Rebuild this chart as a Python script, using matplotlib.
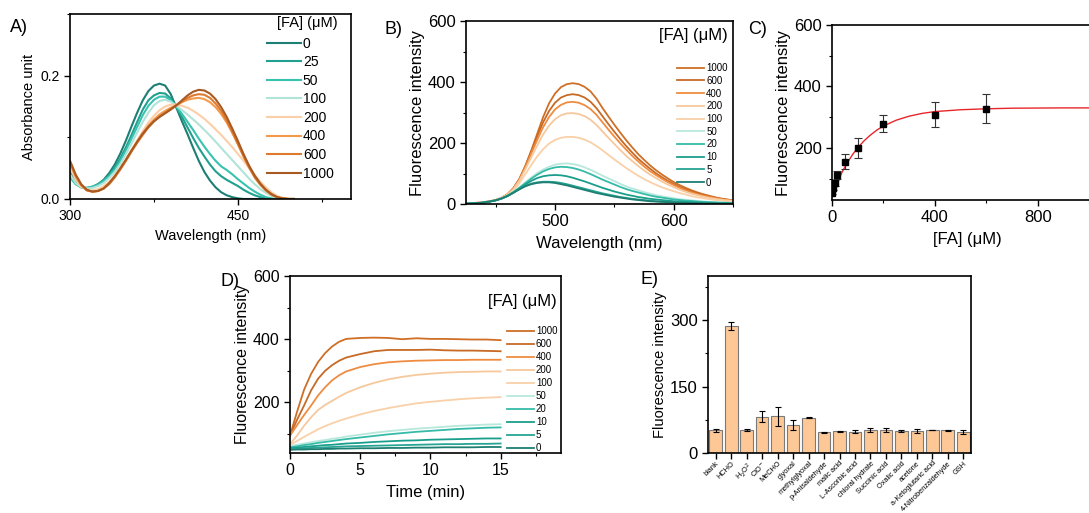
import numpy as np
import matplotlib
matplotlib.use("Agg")
import matplotlib.pyplot as plt
from matplotlib.ticker import MultipleLocator

plt.rcParams["font.family"] = ["Liberation Sans", "DejaVu Sans"]
plt.rcParams["axes.linewidth"] = 1.2
plt.rcParams["xtick.major.width"] = 1.0
plt.rcParams["ytick.major.width"] = 1.0
plt.rcParams["xtick.minor.width"] = 0.8
plt.rcParams["ytick.minor.width"] = 0.8

# ── A) absorbance spectra ────────────────────────────────────────────────────
abs_wl = [300, 305, 310, 315, 320, 325, 330, 335, 340, 345, 350, 355, 360, 365, 370,
          375, 380, 385, 390, 395, 400, 405, 410, 415, 420, 425, 430, 435, 440, 445,
          450, 455, 460, 465, 470, 475, 480, 485, 490, 495, 500]
abs_conc = ["0", "25", "50", "100", "200", "400", "600", "1000"]
abs_0 = [0.045, 0.028, 0.019, 0.017, 0.019, 0.024, 0.031, 0.042, 0.056, 0.074, 0.095, 0.118, 0.140, 0.160, 0.175,
         0.184, 0.187, 0.184, 0.170, 0.148, 0.126, 0.105, 0.083, 0.062, 0.044, 0.030, 0.019, 0.011, 0.006, 0.003,
         0.001, 0.0, 0.0, 0.0, 0.0, 0.0, 0.0, 0.0, 0.0, 0.0, 0.0]
abs_25 = [0.038, 0.025, 0.019, 0.018, 0.020, 0.024, 0.030, 0.039, 0.051, 0.066, 0.084, 0.104, 0.125, 0.145, 0.160,
          0.168, 0.172, 0.171, 0.163, 0.149, 0.133, 0.116, 0.099, 0.083, 0.069, 0.056, 0.045, 0.037, 0.031, 0.026,
          0.021, 0.015, 0.010, 0.006, 0.003, 0.001, 0.0, 0.0, 0.0, 0.0, 0.0]
abs_50 = [0.035, 0.024, 0.019, 0.018, 0.020, 0.023, 0.029, 0.037, 0.048, 0.062, 0.079, 0.098, 0.117, 0.136, 0.151,
          0.161, 0.166, 0.166, 0.160, 0.150, 0.138, 0.125, 0.112, 0.098, 0.085, 0.073, 0.062, 0.053, 0.047, 0.040,
          0.032, 0.025, 0.018, 0.012, 0.007, 0.003, 0.001, 0.0, 0.0, 0.0, 0.0]
abs_100 = [0.040, 0.026, 0.019, 0.017, 0.018, 0.021, 0.026, 0.034, 0.044, 0.057, 0.073, 0.090, 0.108, 0.125, 0.140,
           0.152, 0.159, 0.161, 0.158, 0.151, 0.144, 0.137, 0.129, 0.121, 0.112, 0.103, 0.093, 0.083, 0.073, 0.063,
           0.053, 0.043, 0.033, 0.024, 0.016, 0.010, 0.005, 0.002, 0.001, 0.0, 0.0]
abs_200 = [0.050, 0.032, 0.020, 0.015, 0.014, 0.016, 0.021, 0.028, 0.038, 0.050, 0.064, 0.079, 0.095, 0.110, 0.124,
           0.135, 0.144, 0.150, 0.153, 0.153, 0.151, 0.148, 0.143, 0.137, 0.130, 0.122, 0.113, 0.104, 0.094, 0.084,
           0.073, 0.062, 0.050, 0.039, 0.028, 0.019, 0.011, 0.005, 0.002, 0.001, 0.0]
abs_400 = [0.058, 0.037, 0.022, 0.014, 0.012, 0.013, 0.017, 0.025, 0.036, 0.049, 0.063, 0.078, 0.093, 0.107, 0.119,
           0.129, 0.137, 0.143, 0.148, 0.152, 0.157, 0.161, 0.163, 0.164, 0.162, 0.157, 0.149, 0.138, 0.124, 0.107,
           0.089, 0.070, 0.052, 0.036, 0.024, 0.014, 0.007, 0.003, 0.001, 0.0, 0.0]
abs_600 = [0.060, 0.038, 0.023, 0.014, 0.012, 0.013, 0.017, 0.024, 0.035, 0.048, 0.062, 0.077, 0.091, 0.104, 0.116,
           0.126, 0.134, 0.140, 0.146, 0.152, 0.158, 0.164, 0.168, 0.170, 0.169, 0.164, 0.155, 0.143, 0.127, 0.109,
           0.089, 0.069, 0.051, 0.035, 0.023, 0.014, 0.007, 0.003, 0.001, 0.0, 0.0]
abs_1000 = [0.062, 0.040, 0.024, 0.015, 0.012, 0.013, 0.017, 0.026, 0.037, 0.050, 0.064, 0.079, 0.093, 0.106, 0.117,
            0.126, 0.133, 0.139, 0.145, 0.152, 0.160, 0.168, 0.174, 0.177, 0.176, 0.171, 0.162, 0.149, 0.133, 0.114,
            0.094, 0.073, 0.054, 0.038, 0.025, 0.015, 0.008, 0.003, 0.001, 0.0, 0.0]
abs_colors = ["#1d7f74", "#21a090", "#38c2b0", "#b0e4d8", "#fbd0a8", "#f39a4d", "#dd7a2e", "#a85a22"]

# ── B) emission spectra ──────────────────────────────────────────────────────
em_wl = [425, 430, 435, 440, 445, 450, 455, 460, 465, 470, 475, 480, 485, 490, 495, 500,
         505, 510, 515, 520, 525, 530, 535, 540, 545, 550, 555, 560, 565, 570, 575, 580,
         585, 590, 595, 600, 605, 610, 615, 620, 625, 630, 635, 640, 645, 650]
fl_conc = ["1000", "600", "400", "200", "100", "50", "20", "10", "5", "0"]
em_1000 = [2, 3, 4, 6, 9, 13, 20, 32, 52, 82, 125, 175, 230, 285, 330, 362,
           383, 393, 396, 393, 384, 369, 345, 315, 287, 260, 234, 209, 186, 164, 145, 127,
           111, 97, 84, 72, 62, 53, 45, 38, 32, 27, 22, 18, 15, 12]
em_600 = [2, 3, 4, 6, 9, 13, 20, 32, 52, 82, 124, 172, 222, 268, 305, 332,
          349, 357, 360, 357, 349, 335, 314, 288, 262, 237, 213, 190, 169, 149, 132, 116,
          101, 88, 76, 66, 56, 48, 41, 35, 29, 24, 20, 17, 14, 11]
em_400 = [2, 3, 4, 6, 9, 13, 20, 32, 51, 80, 121, 166, 210, 252, 285, 310,
          325, 333, 335, 332, 324, 311, 292, 268, 244, 221, 199, 178, 158, 140, 123, 108,
          95, 83, 72, 62, 53, 45, 38, 32, 27, 23, 19, 16, 13, 11]
em_200 = [2, 3, 4, 6, 9, 13, 20, 31, 49, 77, 114, 153, 192, 228, 257, 278,
          291, 297, 298, 295, 288, 276, 259, 238, 217, 197, 177, 158, 141, 125, 110, 97,
          85, 74, 64, 55, 47, 40, 34, 29, 24, 20, 17, 14, 12, 10]
em_100 = [2, 3, 4, 6, 9, 13, 19, 29, 45, 68, 98, 128, 156, 180, 198, 210,
          217, 220, 220, 217, 211, 202, 190, 176, 161, 146, 132, 118, 105, 93, 82, 72,
          63, 55, 48, 42, 36, 31, 26, 22, 19, 16, 13, 11, 9, 8]
em_50 = [1, 2, 3, 5, 8, 12, 18, 28, 40, 55, 71, 87, 101, 113, 122, 129,
         132, 133, 131, 127, 120, 112, 103, 93, 84, 75, 66, 58, 51, 45, 39, 34,
         29, 25, 22, 19, 16, 14, 12, 10, 8, 7, 6, 5, 4, 4]
em_20 = [1, 2, 3, 5, 8, 12, 18, 27, 39, 53, 68, 83, 96, 107, 115, 120,
         122, 121, 118, 113, 106, 98, 89, 80, 72, 64, 56, 49, 43, 38, 33, 28,
         24, 21, 18, 15, 13, 11, 10, 8, 7, 6, 5, 4, 4, 3]
em_10 = [1, 2, 3, 5, 8, 12, 18, 27, 38, 51, 64, 76, 85, 91, 94, 95,
         94, 91, 86, 80, 74, 67, 60, 53, 47, 41, 36, 31, 27, 23, 20, 17,
         15, 13, 11, 9, 8, 7, 6, 5, 4, 4, 3, 3, 2, 2]
em_5 = [1, 2, 3, 5, 8, 12, 18, 26, 37, 49, 60, 67, 71, 73, 73, 72,
        69, 65, 60, 55, 50, 45, 40, 35, 31, 27, 23, 20, 17, 15, 13, 11,
        9, 8, 7, 6, 5, 4, 4, 3, 3, 2, 2, 2, 1, 1]
em_0 = [1, 2, 3, 5, 8, 12, 18, 26, 37, 48, 58, 65, 69, 71, 71, 69,
        65, 61, 56, 51, 46, 41, 36, 32, 28, 24, 21, 18, 15, 13, 11, 9,
        8, 7, 6, 5, 4, 4, 3, 3, 2, 2, 2, 1, 1, 1]
fl_colors = ["#cf6f26", "#c76a25", "#ef8c40", "#f6c89c", "#f9d0a8",
             "#b8e8dc", "#35bba8", "#1a9e8c", "#27a493", "#1d7f72"]

# ── C) titration ─────────────────────────────────────────────────────────────
fa_conc = [0, 5, 10, 20, 50, 100, 200, 400, 600]
fa_int = [54, 69, 85, 112, 155, 200, 278, 308, 328]
fa_err = [5, 8, 10, 12, 25, 32, 28, 40, 47]
fit_x = [0, 10, 20, 40, 60, 80, 100, 125, 150, 175, 200, 250, 300, 350, 400,
         500, 600, 700, 800, 900, 1000, 1100]
fit_y = [45, 67, 87, 122, 152, 178, 200, 223, 242, 258, 271, 290, 303, 312, 318,
         324, 327, 329, 329.5, 330, 330, 330]

# ── D) kinetics ──────────────────────────────────────────────────────────────
time_min = [0, 0.5, 1, 1.5, 2, 2.5, 3, 3.5, 4, 5, 6, 7, 8, 9, 10, 11, 12, 13, 14, 15]
kin_1000 = [95, 170, 240, 290, 328, 356, 377, 392, 401, 404, 405, 404, 400, 403, 401, 401, 400, 399, 399, 397]
kin_600 = [95, 145, 190, 238, 275, 300, 318, 332, 342, 353, 362, 366, 366, 366, 367, 365, 364, 364, 363, 362]
kin_400 = [95, 128, 160, 190, 222, 248, 270, 286, 298, 312, 321, 327, 330, 332, 333, 334, 334, 335, 335, 335]
kin_200 = [68, 95, 126, 153, 176, 192, 205, 218, 230, 248, 262, 273, 281, 287, 291, 294, 296, 297, 298, 298]
kin_100 = [65, 78, 91, 103, 115, 125, 134, 142, 149, 162, 173, 182, 190, 197, 202, 206, 210, 213, 215, 217]
kin_50 = [62, 66, 70, 74, 78, 81, 85, 88, 92, 98, 104, 109, 113, 117, 120, 123, 126, 128, 130, 131]
kin_20 = [58, 61, 65, 68, 72, 75, 78, 81, 84, 89, 94, 99, 103, 107, 110, 113, 116, 118, 120, 121]
kin_10 = [55, 57, 59, 61, 63, 65, 66, 68, 70, 72, 75, 77, 79, 80, 82, 83, 84, 85, 86, 86]
kin_5 = [52, 53, 55, 56, 57, 58, 59, 60, 61, 62, 63, 64, 65, 66, 67, 68, 68, 69, 69, 70]
kin_0 = [50, 51, 51, 52, 52, 53, 53, 54, 54, 55, 55, 56, 56, 57, 57, 58, 58, 58, 59, 59]

# ── E) selectivity ───────────────────────────────────────────────────────────
analytes = ["blank", "HCHO", "H$_2$O$^2$", "ClO$^{-}$", "MeCHO", "glyoxal", "methylglyoxal",
            "p-Anisaldehyde", "malic acid", "L-Ascorbic acid", "chloral hydrate", "Succinic acid",
            "Oxalic acid", "acetone", "a-Ketoglutaric acid", "4-Nitrobenzaldehyde", "GSH"]
sel_int = [51, 286, 52, 82, 83, 64, 80, 47, 49, 48, 52, 52, 50, 50, 52, 51, 47]
sel_err = [3, 9, 3, 13, 22, 11, 2, 1, 1, 3, 5, 5, 3, 4, 1, 2, 5]

W, H = 1089, 513
fig = plt.figure(figsize=(W / 100, H / 100), dpi=100)


def add_ax(x0, y0, x1, y1):
    return fig.add_axes([x0 / W, 1 - y1 / H, (x1 - x0) / W, (y1 - y0) / H])


def style(ax, size):
    ax.tick_params(which="major", direction="out", length=4, labelsize=size)
    ax.tick_params(which="minor", direction="out", length=2.5)


# A
ax = add_ax(70, 14, 351, 199)
for y, c, lab in zip([abs_0, abs_25, abs_50, abs_100, abs_200, abs_400, abs_600, abs_1000],
                     abs_colors, abs_conc):
    ax.plot(abs_wl, y, color=c, lw=1.5, label=lab)
ax.set_xlim(300, 551)
ax.set_ylim(0, 0.3)
ax.xaxis.set_major_locator(MultipleLocator(150))
ax.xaxis.set_minor_locator(MultipleLocator(75))
ax.yaxis.set_major_locator(MultipleLocator(0.2))
ax.yaxis.set_minor_locator(MultipleLocator(0.1))
ax.yaxis.set_major_formatter(matplotlib.ticker.FormatStrFormatter("%.1f"))
style(ax, 10)
ax.set_xlabel("Wavelength (nm)", fontsize=10.5, labelpad=4)
ax.set_ylabel("Absorbance unit", fontsize=10.5, labelpad=3)
ax.text(0.735, 0.95, "[FA] (μM)", transform=ax.transAxes, fontsize=10.5, va="center")
ax.legend(loc="upper left", bbox_to_anchor=(0.70, 0.878), frameon=False, fontsize=10,
          handlelength=2.5, handletextpad=0.1, labelspacing=0.33, borderpad=0, borderaxespad=0)

# B
ax = add_ax(466, 21, 733, 204)
for y, c, lab in zip([em_1000, em_600, em_400, em_200, em_100, em_50, em_20, em_10, em_5, em_0],
                     fl_colors, fl_conc):
    ax.plot(em_wl, y, color=c, lw=1.3, label=lab)
ax.set_xlim(425, 650)
ax.set_ylim(0, 600)
ax.xaxis.set_major_locator(MultipleLocator(100))
ax.xaxis.set_minor_locator(MultipleLocator(50))
ax.yaxis.set_major_locator(MultipleLocator(200))
ax.yaxis.set_minor_locator(MultipleLocator(100))
style(ax, 12)
ax.set_xlabel("Wavelength (nm)", fontsize=12, labelpad=5)
ax.set_ylabel("Fluorescence intensity", fontsize=12, labelpad=2)
ax.text(0.981, 0.923, "[FA] (μM)", transform=ax.transAxes, fontsize=12, ha="right", va="center")
ax.legend(loc="upper left", bbox_to_anchor=(0.79, 0.77), frameon=False, fontsize=7,
          handlelength=2.8, handletextpad=0.2, labelspacing=0.28, borderpad=0, borderaxespad=0)

# C
ax = add_ax(832, 25, 1102, 200)
ax.plot(fit_x, fit_y, color="#e8262a", lw=1.0)
ax.errorbar(fa_conc, fa_int, yerr=fa_err, fmt="s", color="black", ms=5,
            ecolor="#333333", elinewidth=0.8, capsize=3, capthick=0.8)
ax.set_xlim(0, 1050)
ax.set_ylim(30, 600)
ax.xaxis.set_major_locator(MultipleLocator(400))
ax.xaxis.set_minor_locator(MultipleLocator(200))
ax.set_yticks([200, 400, 600])
ax.yaxis.set_minor_locator(MultipleLocator(100))
style(ax, 12)
ax.set_xlabel("[FA] (μM)", fontsize=12, labelpad=5)
ax.set_ylabel("Fluorescence intensity", fontsize=12, labelpad=2)

# D
ax = add_ax(290, 276, 561, 453)
for y, c, lab in zip([kin_1000, kin_600, kin_400, kin_200, kin_100, kin_50, kin_20, kin_10, kin_5, kin_0],
                     fl_colors, fl_conc):
    ax.plot(time_min, y, color=c, lw=1.3, label=lab)
ax.set_xlim(0, 19.3)
ax.set_ylim(40, 600)
ax.xaxis.set_major_locator(MultipleLocator(5))
ax.xaxis.set_minor_locator(MultipleLocator(2.5))
ax.set_yticks([200, 400, 600])
ax.yaxis.set_minor_locator(MultipleLocator(100))
style(ax, 11.5)
ax.set_xlabel("Time (min)", fontsize=12, labelpad=5)
ax.set_ylabel("Fluorescence intensity", fontsize=11.5, labelpad=2)
ax.text(0.984, 0.855, "[FA] (μM)", transform=ax.transAxes, fontsize=12, ha="right", va="center")
ax.legend(loc="upper left", bbox_to_anchor=(0.80, 0.716), frameon=False, fontsize=7,
          handlelength=2.8, handletextpad=0.2, labelspacing=0.31, borderpad=0, borderaxespad=0)

# E
ax = add_ax(708, 276, 971, 453)
xpos = np.arange(len(analytes))
ax.bar(xpos, sel_int, width=0.82, color="#fdc896", edgecolor="#7a7a7a", linewidth=0.8)
ax.errorbar(xpos, sel_int, yerr=sel_err, fmt="none", ecolor="black", elinewidth=0.8,
            capsize=2, capthick=0.8)
ax.set_xlim(-0.5, 16.5)
ax.set_ylim(0, 400)
ax.set_yticks([0, 150, 300])
ax.yaxis.set_minor_locator(MultipleLocator(75))
ax.set_xticks(xpos)
ax.set_xticklabels(analytes, rotation=45, ha="right", rotation_mode="anchor")
style(ax, 12)
ax.tick_params(axis="x", labelsize=5.3, pad=1)
ax.set_ylabel("Fluorescence intensity", fontsize=10.5, labelpad=2)

# panel letters
for lab, x, y in [("A)", 10, 28), ("B)", 384, 30), ("C)", 748, 30), ("D)", 220, 282), ("E)", 641, 280)]:
    fig.text(x / W, 1 - y / H, lab, fontsize=13, va="center")

fig.savefig("out.png", dpi=100)
